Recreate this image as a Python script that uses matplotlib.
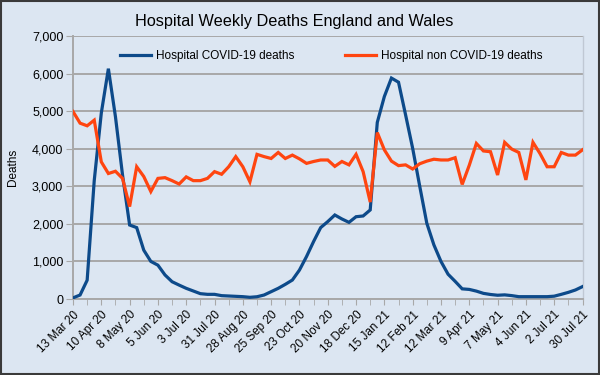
import matplotlib
matplotlib.use("Agg")
import matplotlib.pyplot as plt
import numpy as np
from matplotlib.patches import Rectangle

tick_labels = ["13 Mar 20", "10 Apr 20", "8 May 20", "5 Jun 20", "3 Jul 20", "31 Jul 20",
               "28 Aug 20", "25 Sep 20", "23 Oct 20", "20 Nov 20", "18 Dec 20", "15 Jan 21",
               "12 Feb 21", "12 Mar 21", "9 Apr 21", "7 May 21", "4 Jun 21", "2 Jul 21", "30 Jul 21"]

covid = [30, 106, 500, 3150, 4950, 6130, 4850, 3300, 1970, 1900,
         1300, 1000, 900, 640, 460, 370, 284, 213, 142, 124,
         124, 89, 80, 71, 62, 45, 60, 106, 195, 284,
         390, 505, 770, 1130, 1530, 1900, 2060, 2236, 2130, 2040,
         2190, 2210, 2370, 4700, 5390, 5880, 5770, 4900, 4010, 3000,
         2015, 1440, 1000, 660, 470, 270, 255, 210, 150, 120,
         100, 110, 90, 62, 62, 62, 62, 62, 75, 124,
         177, 240, 330]

non_covid = [4990, 4680, 4610, 4760, 3650, 3340, 3400, 3210, 2460, 3520,
             3260, 2860, 3210, 3230, 3150, 3060, 3250, 3150, 3150, 3210,
             3390, 3320, 3520, 3790, 3520, 3120, 3850, 3790, 3740, 3900,
             3740, 3830, 3730, 3610, 3660, 3700, 3700, 3530, 3660, 3570,
             3850, 3390, 2580, 4430, 3970, 3670, 3550, 3570, 3460, 3600,
             3670, 3720, 3700, 3700, 3760, 3050, 3560, 4140, 3940, 3920,
             3300, 4170, 3990, 3900, 3170, 4170, 3870, 3520, 3520, 3900,
             3830, 3830, 3970]

bg = "#DCE6F2"
blue = "#0D4A8A"
orange = "#FF4510"
grid = "#A8A8A8"

plt.rcParams["font.family"] = ["Liberation Sans", "DejaVu Sans"]

fig = plt.figure(figsize=(6, 3.75), dpi=100, facecolor=bg)
fig.patches.append(Rectangle((0.001, 0.002), 0.997, 0.995, transform=fig.transFigure,
                             fill=False, edgecolor="#3A3A3A", linewidth=1.5, zorder=10))

ax = fig.add_axes([73 / 600, 1 - 299 / 375, (582.5 - 73) / 600, (299 - 36) / 375])
ax.set_facecolor(bg)

x = np.arange(len(covid))
l1, = ax.plot(x, covid, color=blue, lw=2.3, solid_joinstyle="miter", zorder=3)
l2, = ax.plot(x, non_covid, color=orange, lw=2.3, solid_joinstyle="miter", zorder=3)

ax.set_xlim(0, len(covid) - 1)
ax.set_ylim(0, 7000)
ax.set_yticks(np.arange(0, 7001, 1000))
ax.set_yticklabels([f"{v:,}" for v in range(0, 7001, 1000)], fontsize=9)
ax.yaxis.grid(True, color=grid, lw=1.4)
ax.set_axisbelow(True)

major = np.arange(0, len(covid), 4)
ax.set_xticks(major)
ax.set_xticklabels(tick_labels, rotation=45, ha="right", rotation_mode="anchor", fontsize=8.5)
ax.set_xticks(np.arange(0, len(covid), 2), minor=True)
ax.tick_params(axis="x", which="both", length=4, color=grid, pad=3)
ax.tick_params(axis="y", length=5, color=grid, pad=2)

ax.spines["top"].set_visible(False)
ax.spines["left"].set_color(grid)
ax.spines["left"].set_linewidth(1.4)
ax.spines["bottom"].set_color(grid)
ax.spines["bottom"].set_linewidth(1.4)
ax.spines["right"].set_color("#C0C8D4")
ax.spines["right"].set_linewidth(1.0)

ax.set_ylabel("Deaths", fontsize=8.5, labelpad=9)

fig.text(0.49, 0.942, "Hospital Weekly Deaths England and Wales", ha="center", va="center", fontsize=11.7)

fig.legend([l1], ["Hospital COVID-19 deaths"], loc="center left",
           bbox_to_anchor=(120 / 600, 1 - 56 / 375), frameon=False, fontsize=8.5,
           handlelength=2.6, handletextpad=0.45, borderpad=0, borderaxespad=0)
fig.legend([l2], ["Hospital non COVID-19 deaths"], loc="center left",
           bbox_to_anchor=(345 / 600, 1 - 56 / 375), frameon=False, fontsize=8.5,
           handlelength=2.6, handletextpad=0.45, borderpad=0, borderaxespad=0)

fig.savefig("out.png", dpi=100, facecolor=bg)
